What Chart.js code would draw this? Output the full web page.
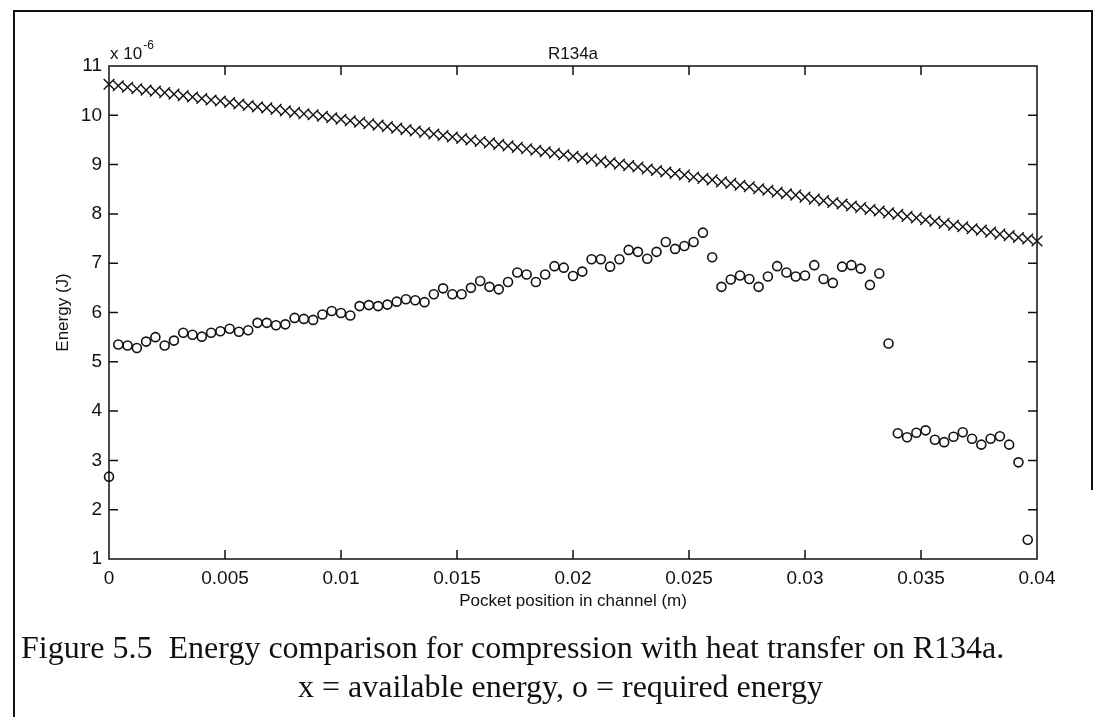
<!DOCTYPE html>
<html>
<head>
<meta charset="utf-8">
<script src="https://cdn.jsdelivr.net/npm/chart.js@4.4.1/dist/chart.umd.min.js"></script>
<style>
  body { margin: 0; background: #fff; }
  #wrap { position: relative; width: 1102px; height: 717px; overflow: hidden; }
  #myChart { position: absolute; left: 0; top: 0; }
  .line { position: absolute; background: #111; }
  .cap { position: absolute; font-family: "Liberation Serif", "Times New Roman", serif;
         font-size: 32px; color: #111; white-space: nowrap; line-height: 34px; }
</style>
</head>
<body>
<div id="wrap">
  <canvas id="myChart" width="1102" height="717"></canvas>
  <div class="line" style="left:13px; top:10px; width:1080px; height:2px;"></div>
  <div class="line" style="left:13px; top:10px; width:2px; height:707px;"></div>
  <div class="line" style="left:1091px; top:10px; width:2px; height:480px;"></div>
  <div class="cap" style="left:21px; top:630px;">Figure 5.5&nbsp; Energy comparison for compression with heat transfer on R134a.</div>
  <div class="cap" style="left:298px; top:669px;">x = available energy, o = required energy</div>
</div>
<script>
// pocket position (m)
var positions = [
  0, 0.0004, 0.0008, 0.0012, 0.0016, 0.002, 0.0024, 0.0028, 0.0032, 0.0036,
  0.004, 0.0044, 0.0048, 0.0052, 0.0056, 0.006, 0.0064, 0.0068, 0.0072, 0.0076,
  0.008, 0.0084, 0.0088, 0.0092, 0.0096, 0.01, 0.0104, 0.0108, 0.0112, 0.0116,
  0.012, 0.0124, 0.0128, 0.0132, 0.0136, 0.014, 0.0144, 0.0148, 0.0152, 0.0156,
  0.016, 0.0164, 0.0168, 0.0172, 0.0176, 0.018, 0.0184, 0.0188, 0.0192, 0.0196,
  0.02, 0.0204, 0.0208, 0.0212, 0.0216, 0.022, 0.0224, 0.0228, 0.0232, 0.0236,
  0.024, 0.0244, 0.0248, 0.0252, 0.0256, 0.026, 0.0264, 0.0268, 0.0272, 0.0276,
  0.028, 0.0284, 0.0288, 0.0292, 0.0296, 0.03, 0.0304, 0.0308, 0.0312, 0.0316,
  0.032, 0.0324, 0.0328, 0.0332, 0.0336, 0.034, 0.0344, 0.0348, 0.0352, 0.0356,
  0.036, 0.0364, 0.0368, 0.0372, 0.0376, 0.038, 0.0384, 0.0388, 0.0392, 0.0396,
  0.04
];

// x = available energy (x 1e-6 J)
var availableEnergy = [
  10.63, 10.60, 10.57, 10.54, 10.51, 10.49, 10.46, 10.43, 10.40, 10.37,
  10.34, 10.31, 10.29, 10.26, 10.23, 10.20, 10.17, 10.15, 10.12, 10.09,
  10.06, 10.03, 10.01, 9.98, 9.95, 9.92, 9.89, 9.86, 9.83, 9.80,
  9.77, 9.74, 9.71, 9.68, 9.65, 9.62, 9.59, 9.56, 9.53, 9.50,
  9.47, 9.44, 9.41, 9.38, 9.35, 9.32, 9.29, 9.26, 9.23, 9.20,
  9.17, 9.14, 9.11, 9.07, 9.04, 9.01, 8.98, 8.95, 8.91, 8.88,
  8.85, 8.82, 8.79, 8.75, 8.72, 8.69, 8.65, 8.62, 8.58, 8.55,
  8.51, 8.48, 8.44, 8.41, 8.38, 8.34, 8.30, 8.27, 8.23, 8.20,
  8.16, 8.13, 8.09, 8.06, 8.02, 7.99, 7.95, 7.92, 7.88, 7.85,
  7.81, 7.77, 7.74, 7.70, 7.67, 7.63, 7.59, 7.56, 7.52, 7.49,
  7.45
];

// o = required energy (x 1e-6 J)
var requiredEnergy = [
  2.67, 5.35, 5.33, 5.28, 5.41, 5.50, 5.33, 5.43, 5.59, 5.55,
  5.51, 5.59, 5.62, 5.67, 5.61, 5.64, 5.79, 5.79, 5.74, 5.76,
  5.89, 5.87, 5.85, 5.96, 6.03, 5.99, 5.94, 6.13, 6.15, 6.13,
  6.16, 6.22, 6.27, 6.25, 6.21, 6.37, 6.49, 6.37, 6.37, 6.50,
  6.64, 6.52, 6.47, 6.62, 6.81, 6.77, 6.62, 6.77, 6.94, 6.91,
  6.74, 6.83, 7.08, 7.08, 6.93, 7.08, 7.27, 7.23, 7.09, 7.23,
  7.43, 7.29, 7.35, 7.43, 7.62, 7.12, 6.52, 6.67, 6.75, 6.68,
  6.52, 6.73, 6.94, 6.81, 6.73, 6.75, 6.96, 6.68, 6.60, 6.93,
  6.96, 6.89, 6.56, 6.79, 5.37, 3.55, 3.47, 3.56, 3.61, 3.42,
  3.37, 3.48, 3.57, 3.44, 3.32, 3.44, 3.49, 3.32, 2.96, 1.39
];

var xTicks = [0, 0.005, 0.01, 0.015, 0.02, 0.025, 0.03, 0.035, 0.04];
var xTickLabels = ['0', '0.005', '0.01', '0.015', '0.02', '0.025', '0.03', '0.035', '0.04'];
var yTicks = [1, 2, 3, 4, 5, 6, 7, 8, 9, 10, 11];

var sans = '"Liberation Sans", Arial, sans-serif';
var ink = '#111';

function toPoints(ys) {
    var pts = [];
    for (var i = 0; i < ys.length; i++) {
        pts.push({ x: positions[i], y: ys[i] });
    }
    return pts;
}

// matlab style box: inward ticks on all four sides + texts
var boxPlugin = {
    id: 'box',
    afterDraw: function (chart) {
        var c = chart.ctx, a = chart.chartArea;
        var xs = chart.scales.x, ys = chart.scales.y;
        var tl = 9, i, p;
        c.save();
        c.strokeStyle = ink;
        c.lineWidth = 1.5;
        c.strokeRect(a.left, a.top, a.right - a.left, a.bottom - a.top);
        c.beginPath();
        for (i = 1; i < xTicks.length - 1; i++) {
            p = xs.getPixelForValue(xTicks[i]);
            c.moveTo(p, a.bottom); c.lineTo(p, a.bottom - tl);
            c.moveTo(p, a.top); c.lineTo(p, a.top + tl);
        }
        for (i = 1; i < yTicks.length - 1; i++) {
            p = ys.getPixelForValue(yTicks[i]);
            c.moveTo(a.left, p); c.lineTo(a.left + tl, p);
            c.moveTo(a.right, p); c.lineTo(a.right - tl, p);
        }
        c.stroke();

        c.fillStyle = ink;
        c.font = '17px ' + sans;
        c.textAlign = 'center';
        c.textBaseline = 'middle';
        c.fillText('R134a', (a.left + a.right) / 2, 54);
        c.fillText('Pocket position in channel (m)', (a.left + a.right) / 2, 601);

        c.save();
        c.translate(63, (a.top + a.bottom) / 2);
        c.rotate(-Math.PI / 2);
        c.fillText('Energy (J)', 0, 0);
        c.restore();

        c.textAlign = 'left';
        c.font = '17px ' + sans;
        c.fillText('x 10', a.left + 1, 54);
        var w = c.measureText('x 10').width;
        c.font = '12px ' + sans;
        c.fillText('-6', a.left + 2 + w, 46);
        c.restore();
    }
};

var ctx = document.getElementById('myChart');
var myChart = new Chart(ctx, {
    type: 'scatter',
    data: {
        datasets: [{
            label: 'available energy',
            data: toPoints(availableEnergy),
            pointStyle: 'crossRot',
            pointRadius: 7.5,
            borderColor: ink,
            borderWidth: 1.4,
            backgroundColor: ink,
            clip: false
        }, {
            label: 'required energy',
            data: toPoints(requiredEnergy),
            pointStyle: 'circle',
            pointRadius: 4.5,
            borderColor: ink,
            borderWidth: 1.6,
            backgroundColor: 'rgba(0,0,0,0)',
            clip: false
        }]
    },
    options: {
        responsive: false,
        animation: false,
        devicePixelRatio: 1,
        layout: { padding: { left: 0, top: 66, right: 65, bottom: 0 } },
        plugins: { legend: { display: false }, tooltip: { enabled: false }, title: { display: false } },
        scales: {
            x: {
                type: 'linear', min: 0, max: 0.04,
                afterFit: function (s) { s.height = 717 - 559; },
                afterBuildTicks: function (s) { s.ticks = xTicks.map(function (v) { return { value: v }; }); },
                grid: { display: false, drawTicks: false },
                border: { display: false },
                ticks: {
                    color: ink, padding: 8, maxRotation: 0,
                    font: { family: sans, size: 19 },
                    callback: function (v) { return xTickLabels[xTicks.indexOf(v)]; }
                }
            },
            y: {
                type: 'linear', min: 1, max: 11,
                afterFit: function (s) { s.width = 109; },
                afterBuildTicks: function (s) { s.ticks = yTicks.map(function (v) { return { value: v }; }); },
                grid: { display: false, drawTicks: false },
                border: { display: false },
                ticks: { color: ink, padding: 7, font: { family: sans, size: 19 } }
            }
        }
    },
    plugins: [boxPlugin]
});
</script>
</body>
</html>
